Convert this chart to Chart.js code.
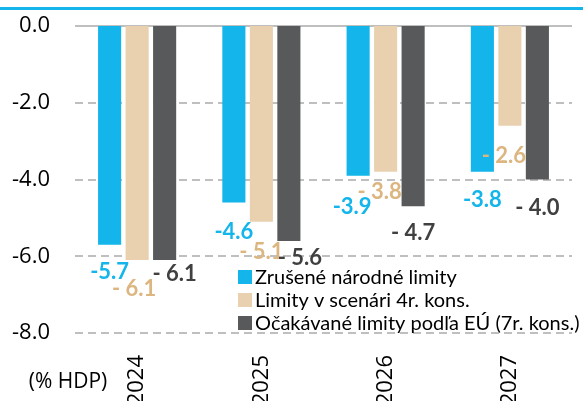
<!DOCTYPE html>
<html lang="sk">
<head>
<meta charset="UTF-8">
<title>Deficit</title>
<script src="https://cdn.jsdelivr.net/npm/chart.js"></script>
<style>
  html, body { margin: 0; padding: 0; background: #fff; overflow: hidden; }
  canvas { display: block; }
</style>
</head>
<body>
<canvas id="c" width="583" height="401"></canvas>
<script>
const years = ['2024', '2025', '2026', '2027'];
const zrusene = [-5.7, -4.6, -3.9, -3.8];
const scenar4r = [-6.1, -5.1, -3.8, -2.6];
const ocakavaneEU = [-6.1, -5.6, -4.7, -4.0];
const seriesNames = ['Zrušené národné limity', 'Limity v scenári 4r. kons.', 'Očakávané limity podľa EÚ (7r. kons.)'];
const unitLabel = '(% HDP)';

const FONT = 'Lato, "Open Sans", sans-serif';
const TICKFONT = '"Open Sans", "Noto Sans", sans-serif';
const BLUE = '#13b5ea', BEIGE = '#e9d1b0', DARK = '#58595b';
const labelColors = [BLUE, '#dcb57f', '#404040'];

// label nudges [dx, dy] from bar end, per series / per year
const nudges = [
  [[0, 27], [0, 29], [-6, 31], [0, 28]],
  [[-3, 29], [0, 30], [-6, 20], [-6, 30]],
  [[10, 14], [11, 17], [0, 27], [0, 28]]
];

const extras = {
  id: 'extras',
  beforeDatasetsDraw(chart) {
    const { ctx, chartArea: a, scales: { y } } = chart;
    ctx.save();
    ctx.strokeStyle = '#bfbfbf';
    ctx.lineWidth = 2;
    y.ticks.forEach(t => {
      const py = Math.round(y.getPixelForValue(t.value));
      ctx.setLineDash(t.value === 0 ? [] : [8, 5]);
      ctx.beginPath();
      ctx.moveTo(a.left, py);
      ctx.lineTo(a.right, py);
      ctx.stroke();
    });
    ctx.restore();
  },
  afterDatasetsDraw(chart) {
    const { ctx } = chart;
    ctx.save();
    ctx.font = 'bold 22px ' + FONT;
    ctx.textAlign = 'center';
    ctx.textBaseline = 'middle';
    chart.data.datasets.forEach((ds, i) => {
      chart.getDatasetMeta(i).data.forEach((bar, j) => {
        const v = ds.data[j];
        const txt = i === 0 ? v.toFixed(1) : '- ' + Math.abs(v).toFixed(1);
        const [dx, dy] = nudges[i][j];
        ctx.fillStyle = labelColors[i];
        ctx.fillText(txt, bar.x + dx, bar.y + dy);
      });
    });
    ctx.restore();
  },
  afterDraw(chart) {
    const { ctx } = chart;
    ctx.save();
    // rule under the (cut-off) title
    ctx.fillStyle = BLUE;
    ctx.fillRect(0, 7, chart.width, 3);
    // legend inside the plot
    ctx.font = '20px ' + FONT;
    ctx.textBaseline = 'middle';
    ctx.textAlign = 'left';
    chart.data.datasets.forEach((ds, i) => {
      const cy = 277 + i * 23;
      ctx.fillStyle = ds.backgroundColor;
      ctx.fillRect(238, cy - 7, 14, 14);
      ctx.fillStyle = '#000';
      ctx.fillText(ds.label, 255, cy + 1);
    });
    // unit label
    ctx.font = '21px ' + TICKFONT;
    ctx.textAlign = 'center';
    ctx.fillText(unitLabel, 68, 382);
    ctx.restore();
  }
};

new Chart(document.getElementById('c'), {
  type: 'bar',
  data: {
    labels: years,
    datasets: [
      { label: seriesNames[0], data: zrusene, backgroundColor: BLUE },
      { label: seriesNames[1], data: scenar4r, backgroundColor: BEIGE },
      { label: seriesNames[2], data: ocakavaneEU, backgroundColor: DARK }
    ]
  },
  options: {
    responsive: false,
    animation: false,
    layout: { padding: { top: 26, right: 11, left: 0, bottom: 0 } },
    datasets: { bar: { categoryPercentage: 0.664, barPercentage: 0.84 } },
    plugins: { legend: { display: false }, tooltip: { enabled: false }, title: { display: false } },
    scales: {
      x: {
        grid: { display: false, drawTicks: false },
        border: { display: false },
        ticks: { color: '#000', font: { family: TICKFONT, size: 22 }, minRotation: 90, maxRotation: 90, padding: 22, autoSkip: false },
        afterFit: s => { s.height = 68; }
      },
      y: {
        min: -8, max: 0,
        grid: { display: false, drawTicks: false },
        border: { display: false },
        ticks: { stepSize: 2, color: '#000', font: { family: TICKFONT, size: 22 }, padding: 25, callback: v => v.toFixed(1) },
        afterFit: s => { s.width = 75; s.paddingTop = 10; s.paddingBottom = 10; }
      }
    }
  },
  plugins: [extras]
});
</script>
</body>
</html>
